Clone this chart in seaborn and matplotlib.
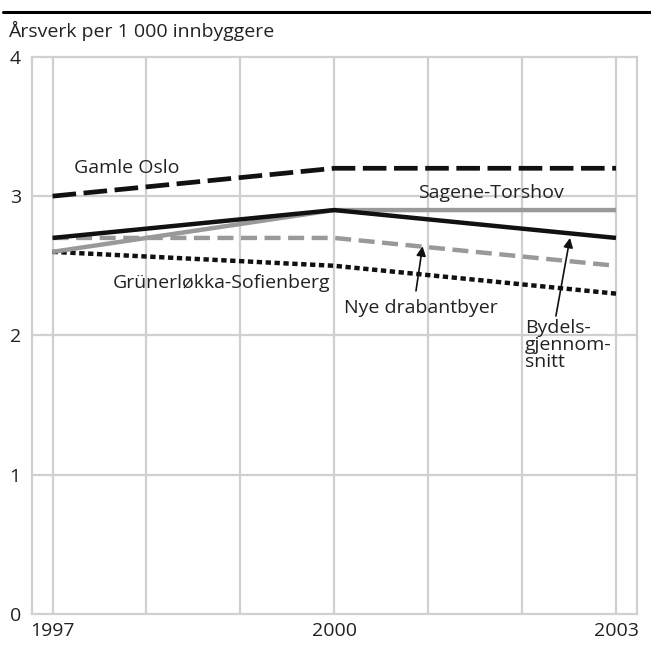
import matplotlib
matplotlib.use("Agg")
import matplotlib.pyplot as plt
import seaborn as sns
import pandas as pd

years = [1997, 2000, 2003]
gamle_oslo = [3.0, 3.2, 3.2]
sagene_torshov = [2.6, 2.9, 2.9]
bydelsgjennomsnitt = [2.7, 2.9, 2.7]
nye_drabantbyer = [2.7, 2.7, 2.5]
grunerlokka = [2.6, 2.5, 2.3]

sns.set_theme(style="white")
plt.rcParams['font.family'] = ['Open Sans', 'DejaVu Sans']

fig = plt.figure(figsize=(6.51, 6.46), dpi=100)
ax = fig.add_axes([0.049, 0.0495, 0.929, 0.8625])

grid_c = "#d0d0d0"
series = [
    ("Grünerløkka-Sofienberg", grunerlokka, "#111111", (1.2, 0.8), 3.2),
    ("Nye drabantbyer", nye_drabantbyer, "#999999", (3.6, 1.7), 3.2),
    ("Sagene-Torshov", sagene_torshov, "#999999", None, 3.2),
    ("Bydelsgjennomsnitt", bydelsgjennomsnitt, "#111111", None, 3.2),
    ("Gamle Oslo", gamle_oslo, "#111111", (5.0, 1.6), 3.4),
]
for name, vals, col, dash, lw in series:
    df = pd.DataFrame({"year": years, "value": vals})
    sns.lineplot(data=df, x="year", y="value", ax=ax, color=col, linewidth=lw)
    line = ax.lines[-1]
    if dash is not None:
        line.set_dashes(dash)
    line.set_solid_capstyle("butt")

ax.set_xlim(1996.78, 2003.22)
ax.set_ylim(0, 4)
ax.set_xticks([1997, 2000, 2003])
ax.set_yticks([0, 1, 2, 3, 4])
for x in range(1997, 2004):
    ax.axvline(x, color=grid_c, lw=1.6, zorder=0)
for y in [1, 2, 3]:
    ax.axhline(y, color=grid_c, lw=1.6, zorder=0)
for s in ax.spines.values():
    s.set_color(grid_c)
    s.set_linewidth(1.6)
ax.set_xlabel("")
ax.set_ylabel("")
fs = 14
tc = "#222222"
ax.tick_params(axis="both", length=0, labelsize=fs, colors=tc)
ax.tick_params(axis="y", pad=8)
ax.tick_params(axis="x", pad=6)

ax.text(1997.23, 3.2, "Gamle Oslo", fontsize=fs, color=tc, va="center")
ax.text(2000.89, 3.02, "Sagene-Torshov", fontsize=fs, color=tc, va="center")
ax.text(1997.64, 2.38, "Grünerløkka-Sofienberg", fontsize=fs, color=tc, va="center")
ax.text(2000.10, 2.20, "Nye drabantbyer", fontsize=fs, color=tc, va="center")
ax.text(2002.03, 1.93, "Bydels-\ngjennom-\nsnitt", fontsize=fs, color=tc,
        va="center", linespacing=0.95)

arrow = dict(arrowstyle="-|>", color="#111111", lw=1.2, shrinkA=0, shrinkB=0,
             mutation_scale=14)
ax.annotate("", xy=(2000.94, 2.64), xytext=(2000.87, 2.32), arrowprops=arrow)
ax.annotate("", xy=(2002.51, 2.70), xytext=(2002.36, 2.14), arrowprops=arrow)

fig.text(8 / 651, 1 - 31 / 646, "Årsverk per 1 000 innbyggere", fontsize=fs,
         color=tc, va="center", ha="left")
fig.add_artist(plt.Line2D([3 / 651, 1.0], [1 - 12 / 646, 1 - 12 / 646],
                          color="black", lw=2.2, transform=fig.transFigure))

fig.savefig("out.png", dpi=100)
